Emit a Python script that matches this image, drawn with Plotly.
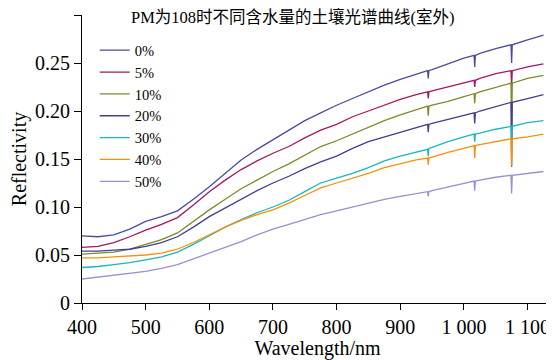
import plotly.graph_objects as go

wavelength = [400, 425, 450, 475, 500, 525, 550, 575, 600, 625, 650, 675, 700, 725,
              750, 775, 800, 825, 850, 875, 900, 925, 943, 944, 945, 950, 975, 1000,
              1016, 1017, 1018, 1025, 1050, 1074, 1075, 1076, 1100, 1125]

labels = ["0%", "5%", "10%", "20%", "30%", "40%", "50%"]

r0 = [0.070, 0.069, 0.071, 0.077, 0.085, 0.090, 0.096, 0.108, 0.121, 0.135, 0.149, 0.160, 0.170, 0.180,
      0.190, 0.198, 0.206, 0.213, 0.220, 0.227, 0.233, 0.238, 0.242, 0.234, 0.242, 0.243, 0.249, 0.255,
      0.258, 0.246, 0.258, 0.260, 0.265, 0.269, 0.250, 0.269, 0.274, 0.279]
r5 = [0.058, 0.059, 0.063, 0.069, 0.076, 0.082, 0.089, 0.102, 0.116, 0.128, 0.139, 0.148, 0.156, 0.163,
      0.172, 0.180, 0.186, 0.194, 0.200, 0.206, 0.212, 0.217, 0.220, 0.213, 0.220, 0.221, 0.225, 0.229,
      0.232, 0.225, 0.232, 0.234, 0.239, 0.242, 0.226, 0.242, 0.246, 0.249]
r10 = [0.051, 0.052, 0.053, 0.056, 0.061, 0.066, 0.073, 0.085, 0.097, 0.108, 0.119, 0.128, 0.137, 0.145,
       0.154, 0.163, 0.169, 0.176, 0.183, 0.190, 0.196, 0.201, 0.205, 0.195, 0.205, 0.206, 0.210, 0.215,
       0.218, 0.208, 0.218, 0.220, 0.225, 0.229, 0.180, 0.229, 0.234, 0.237]
r20 = [0.054, 0.054, 0.055, 0.056, 0.059, 0.063, 0.069, 0.079, 0.090, 0.099, 0.108, 0.117, 0.125, 0.132,
       0.140, 0.147, 0.153, 0.161, 0.168, 0.173, 0.178, 0.183, 0.186, 0.178, 0.186, 0.187, 0.191, 0.195,
       0.198, 0.187, 0.198, 0.200, 0.205, 0.209, 0.142, 0.209, 0.213, 0.217]
r30 = [0.037, 0.038, 0.040, 0.042, 0.045, 0.048, 0.053, 0.061, 0.070, 0.079, 0.087, 0.094, 0.100, 0.107,
       0.116, 0.125, 0.130, 0.135, 0.141, 0.148, 0.153, 0.157, 0.160, 0.153, 0.161, 0.162, 0.168, 0.173,
       0.176, 0.168, 0.176, 0.177, 0.181, 0.184, 0.168, 0.184, 0.188, 0.190]
r40 = [0.047, 0.047, 0.048, 0.049, 0.050, 0.052, 0.056, 0.063, 0.071, 0.079, 0.086, 0.092, 0.097, 0.104,
       0.112, 0.120, 0.125, 0.130, 0.135, 0.141, 0.145, 0.149, 0.151, 0.144, 0.151, 0.152, 0.157, 0.161,
       0.164, 0.151, 0.164, 0.165, 0.168, 0.171, 0.143, 0.171, 0.173, 0.176]
r50 = [0.025, 0.027, 0.029, 0.031, 0.033, 0.036, 0.040, 0.046, 0.052, 0.058, 0.064, 0.071, 0.077, 0.082,
       0.087, 0.092, 0.096, 0.100, 0.104, 0.108, 0.111, 0.114, 0.116, 0.111, 0.116, 0.117, 0.121, 0.125,
       0.127, 0.117, 0.127, 0.128, 0.131, 0.133, 0.114, 0.133, 0.135, 0.137]

series = [r0, r5, r10, r20, r30, r40, r50]
colors = ["#4b4b9b", "#a5185f", "#7c8a2a", "#40408f", "#1bb5be", "#f7900c", "#9a8fd0"]

x_tickvals = [400, 500, 600, 700, 800, 900, 1000, 1100]
x_ticktext = ["400", "500", "600", "700", "800", "900", "1 000", "1 100"]
y_tickvals = [0, 0.05, 0.10, 0.15, 0.20, 0.25, 0.30]
y_ticktext = ["0", "0.05", "0.10", "0.15", "0.20", "0.25", "0.30"]

title_text = "PM为108时不同含水量的土壤光谱曲线(室外)"

serif = "Liberation Serif, Times New Roman, serif"

fig = go.Figure()
for name, vals, col in zip(labels, series, colors):
    fig.add_trace(go.Scatter(x=wavelength, y=vals, mode="lines", name=name,
                             line=dict(color=col, width=1.3)))

# page body has an 8px margin; figure is sized/offset to compensate
fig.update_layout(
    width=546, height=352,
    margin=dict(l=74, r=1, t=7, b=57, autoexpand=False),
    paper_bgcolor="white", plot_bgcolor="white",
    font=dict(family=serif, size=20, color="black"),
    showlegend=True,
    legend=dict(x=0.027, y=0.933, xanchor="left", yanchor="top",
                font=dict(family=serif, size=14.5, color="black"),
                bgcolor="rgba(0,0,0,0)", tracegroupgap=0, borderwidth=0),
    annotations=[dict(text=title_text, x=0.448, y=1.0, xref="paper", yref="paper",
                      xanchor="center", yanchor="middle", yshift=-2, showarrow=False,
                      font=dict(family="Liberation Serif, Noto Sans CJK SC, serif", size=16.5, color="black"))],
)

fig.update_xaxes(range=[400, 1140], showline=True, linecolor="black", linewidth=1.2,
                 ticks="outside", ticklen=6, tickcolor="black", tickwidth=1.2,
                 tickvals=x_tickvals, ticktext=x_ticktext, showgrid=False, zeroline=False,
                 automargin=False,
                 title=dict(text="Wavelength/nm", font=dict(family=serif, size=20)),
                 tickfont=dict(family=serif, size=20))
fig.update_yaxes(range=[0, 0.30], showline=True, linecolor="black", linewidth=1.2,
                 ticks="outside", ticklen=7, tickcolor="black", tickwidth=1.2,
                 tickvals=y_tickvals, ticktext=y_ticktext, showgrid=False, zeroline=False,
                 automargin=False,
                 title=dict(text="Reflectivity", standoff=2, font=dict(family=serif, size=20)),
                 tickfont=dict(family=serif, size=20))

fig.write_html("out.html")
